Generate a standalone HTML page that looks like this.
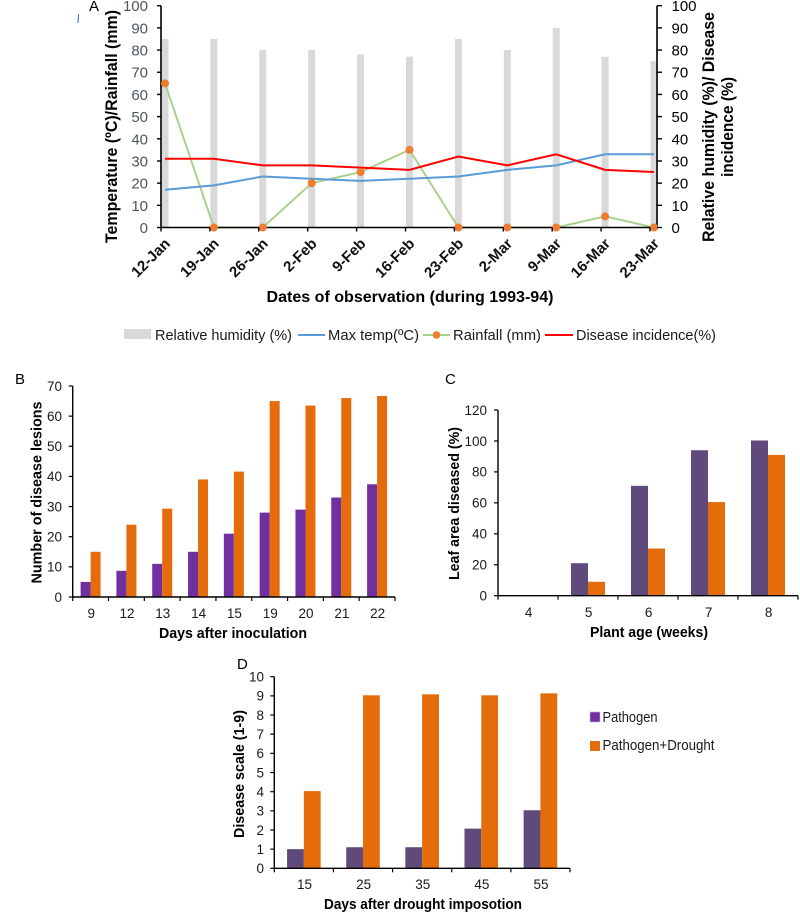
<!DOCTYPE html>
<html lang="en">
<head>
<meta charset="utf-8">
<title>Disease charts</title>
<style>
html,body{margin:0;padding:0;background:#fff;}
#figure{display:block;width:800px;height:913px;filter:blur(0.3px);}
text{font-family:"Liberation Sans",Arial,sans-serif;}
.b{font-weight:bold;fill:#000;}
</style>
</head>
<body>
<svg id="figure" xmlns="http://www.w3.org/2000/svg" width="800" height="913" viewBox="0 0 800 913">
  <rect x="0" y="0" width="800" height="913" fill="#ffffff"/>
  <g id="chartA"></g>
  <g id="chartB"></g>
  <g id="chartC"></g>
  <g id="chartD"></g>

  <path d="M78.5 14 L78 23" stroke="#2f6fc0" stroke-width="1" fill="none"/>
  <text x="89" y="11" font-size="15" fill="#000">A</text>
  <text x="15" y="384" font-size="15" fill="#000">B</text>
  <text x="445" y="384" font-size="15" fill="#000">C</text>
  <text x="237" y="669" font-size="15" fill="#000">D</text>

  <text class="b" transform="translate(117,126.5) rotate(-90)" text-anchor="middle" font-size="16.5" textLength="233" lengthAdjust="spacingAndGlyphs">Temperature (ºC)/Rainfall (mm)</text>
  <text class="b" transform="translate(714,127) rotate(-90)" text-anchor="middle" font-size="16.5" textLength="230" lengthAdjust="spacingAndGlyphs">Relative humidity (%)/ Disease</text>
  <text class="b" transform="translate(733,127) rotate(-90)" text-anchor="middle" font-size="16.5" textLength="100" lengthAdjust="spacingAndGlyphs">incidence (%)</text>
  <text class="b" x="410" y="302" text-anchor="middle" font-size="16" textLength="287" lengthAdjust="spacingAndGlyphs">Dates of observation (during 1993-94)</text>

  <g font-size="15" fill="#1a1a1a">
    <rect x="124" y="329" width="27" height="10" fill="#d9d9d9"/>
    <text x="155" y="340" textLength="137" lengthAdjust="spacingAndGlyphs">Relative humidity (%)</text>
    <line x1="298" y1="335" x2="325" y2="335" stroke="#5b9bd5" stroke-width="2"/>
    <text x="328" y="340" textLength="91" lengthAdjust="spacingAndGlyphs">Max temp(ºC)</text>
    <line x1="423" y1="335" x2="450" y2="335" stroke="#a9d18e" stroke-width="2"/>
    <circle cx="436.5" cy="335" r="3.8" fill="#ed7d31"/>
    <text x="453" y="340" textLength="88" lengthAdjust="spacingAndGlyphs">Rainfall (mm)</text>
    <line x1="545" y1="335" x2="573" y2="335" stroke="#ff0000" stroke-width="2"/>
    <text x="576" y="340" textLength="140" lengthAdjust="spacingAndGlyphs">Disease incidence(%)</text>
  </g>

  <text class="b" transform="translate(41.5,492.5) rotate(-90)" text-anchor="middle" font-size="14.5" textLength="182" lengthAdjust="spacingAndGlyphs">Number of disease lesions</text>
  <text class="b" x="233" y="638" text-anchor="middle" font-size="14.5" textLength="148" lengthAdjust="spacingAndGlyphs">Days after inoculation</text>

  <text class="b" transform="translate(459,503.5) rotate(-90)" text-anchor="middle" font-size="14.5" textLength="153" lengthAdjust="spacingAndGlyphs">Leaf area diseased (%)</text>
  <text class="b" x="649" y="637" text-anchor="middle" font-size="14.5" textLength="118" lengthAdjust="spacingAndGlyphs">Plant age (weeks)</text>

  <text class="b" transform="translate(244,774) rotate(-90)" text-anchor="middle" font-size="14.5" textLength="128" lengthAdjust="spacingAndGlyphs">Disease scale (1-9)</text>
  <text class="b" x="423" y="909" text-anchor="middle" font-size="14.5" textLength="198" lengthAdjust="spacingAndGlyphs">Days after drought imposotion</text>

  <g font-size="14.5" fill="#1a1a1a">
    <rect x="590" y="712" width="10" height="10" fill="#7030a0" stroke="#c9b3d9" stroke-width="0.6"/>
    <text x="602.5" y="722" textLength="55" lengthAdjust="spacingAndGlyphs">Pathogen</text>
    <rect x="590" y="741" width="10" height="10" fill="#e46c0a"/>
    <text x="602.5" y="750" textLength="112" lengthAdjust="spacingAndGlyphs">Pathogen+Drought</text>
  </g>
</svg>

<script>
// Chart A data
const datesA = ['12-Jan','19-Jan','26-Jan','2-Feb','9-Feb','16-Feb','23-Feb','2-Mar','9-Mar','16-Mar','23-Mar'];
const humidityA = [85,85,80,80,78,77,85,80,90,77,75];
const maxTempA = [17,19,23,22,21,22,23,26,28,33,33];
const rainfallA = [65,0,0,20,25,35,0,0,0,5,0];
const diseaseA = [31,31,28,28,27,26,32,28,33,26,25];
const ticksA = [0,10,20,30,40,50,60,70,80,90,100];

// Chart B data
const daysB = ['9','12','13','14','15','19','20','21','22'];
const series1B = [5,8.7,11,15,21,28,29,33,37.4];
const series2B = [15,24,29.3,39,41.6,65,63.5,66,66.7];
const ticksB = [0,10,20,30,40,50,60,70];

// Chart C data
const weeksC = ['4','5','6','7','8'];
const series1C = [0,21,71,94,100.3];
const series2C = [0,9,30.5,60.5,91];
const ticksC = [0,20,40,60,80,100,120];

// Chart D data
const daysD = ['15','25','35','45','55'];
const series1D = [1,1.1,1.1,2.07,3.03];
const series2D = [4.03,9.03,9.08,9.03,9.13];
const ticksD = [0,1,2,3,4,5,6,7,8,9,10];

const NS = 'http://www.w3.org/2000/svg';
function mk(tag, attrs, parent) {
  const el = document.createElementNS(NS, tag);
  for (const k in attrs) el.setAttribute(k, attrs[k]);
  parent.appendChild(el);
  return el;
}

function drawChartA() {
  const g = document.getElementById('chartA');
  const left = 161, right = 657, top = 5.7, bottom = 227.5, step = 48.9;
  const y = v => bottom - (v / 100) * (bottom - top);
  const tickX = i => left + step * i;
  const cx = i => left + 4 + step * i;

  humidityA.forEach((v, i) => {
    const el = mk('rect', {x: cx(i) - 3.5, y: y(v), width: 7, height: bottom - y(v), fill: '#d9d9d9'}, g);
    
    
  });

  const toPoints = arr => arr.map((v, i) => cx(i) + ',' + y(v)).join(' ');

  const rainLine = mk('polyline', {points: toPoints(rainfallA), fill: 'none', stroke: '#a9d18e', 'stroke-width': 2}, g);
  
  

  const tempLine = mk('polyline', {points: toPoints(maxTempA), fill: 'none', stroke: '#5b9bd5', 'stroke-width': 2}, g);
  
  

  const diseaseLine = mk('polyline', {points: toPoints(diseaseA), fill: 'none', stroke: '#ff0000', 'stroke-width': 2}, g);
  
  

  const axisPath = 'M' + left + ' ' + top + 'V' + bottom + 'H' + right + 'V' + top;
  const axes = mk('path', {d: axisPath, fill: 'none', stroke: '#000', 'stroke-width': 1.6}, g);
  
  

  rainfallA.forEach((v, i) => {
    const el = mk('circle', {cx: cx(i), cy: y(v), r: 4, fill: '#ed7d31'}, g);
    
    
  });

  ticksA.forEach(t => {
    const l = mk('line', {x1: left - 4, x2: left, y1: y(t), y2: y(t), stroke: '#000', 'stroke-width': 1.4}, g);
    
    
    const r = mk('line', {x1: right, x2: right + 5, y1: y(t), y2: y(t), stroke: '#000', 'stroke-width': 1.4}, g);
    
    
    const a = mk('text', {x: 148, y: y(t) + 5.5, 'text-anchor': 'end', 'font-size': 15, fill: '#4d5560'}, g);
    a.textContent = t;
    
    
    const b = mk('text', {x: 671.5, y: y(t) + 5.5, 'font-size': 15, fill: '#000'}, g);
    b.textContent = t;
    
    
  });

  datesA.forEach((d, i) => {
    const t = mk('line', {x1: tickX(i), x2: tickX(i), y1: bottom, y2: bottom + 4, stroke: '#000', 'stroke-width': 1.4}, g);
    
    
    const px = tickX(i) + 10, py = bottom + 17;
    const l = mk('text', {transform: 'translate(' + px + ',' + py + ') rotate(-45)', 'text-anchor': 'end', 'font-size': 15, 'font-weight': 'bold', fill: '#111'}, g);
    l.textContent = d;
    
    
  });
}

function drawBars(opts) {
  const g = document.getElementById(opts.id);
  const {left, right, top, bottom, max, barW, color1, color2, labelEnd, xLabelY, cats, s1, s2, ticks} = opts;
  const step = (right - left) / cats.length;
  const y = v => bottom - (v / max) * (bottom - top);
  const cx = i => left + step * (i + 0.5);

  cats.forEach((c, i) => {
    if (s1[i] > 0) {
      const a = mk('rect', {x: cx(i) - barW, y: y(s1[i]), width: barW, height: bottom - y(s1[i]), fill: color1}, g);
      
      
    }
    if (s2[i] > 0) {
      const b = mk('rect', {x: cx(i), y: y(s2[i]), width: barW, height: bottom - y(s2[i]), fill: color2}, g);
      
      
    }
    const lab = mk('text', {x: cx(i) + 0.6, y: xLabelY, 'text-anchor': 'middle', 'font-size': 13.5, fill: '#1a1a1a'}, g);
    lab.textContent = c;
    
    
  });

  const axes = mk('path', {d: 'M' + left + ' ' + top + 'V' + bottom + 'H' + right, fill: 'none', stroke: '#000', 'stroke-width': 1.4}, g);
  
  

  for (let i = 0; i <= cats.length; i++) {
    const x = left + step * i;
    const t = mk('line', {x1: x, x2: x, y1: bottom, y2: bottom + 4, stroke: '#000', 'stroke-width': 1.2}, g);
    
    
  }

  ticks.forEach(t => {
    const l = mk('line', {x1: left - 4, x2: left, y1: y(t), y2: y(t), stroke: '#000', 'stroke-width': 1.2}, g);
    
    
    const txt = mk('text', {x: labelEnd, y: y(t) + 4.8, 'text-anchor': 'end', 'font-size': 13.5, fill: '#1a1a1a'}, g);
    txt.textContent = t;
    
    
  });
}

drawChartA();
drawBars({id: 'chartB', left: 72.7, right: 395, top: 386, bottom: 597, max: 70, barW: 10, color1: '#7030a0', color2: '#e46c0a', labelEnd: 62, xLabelY: 618, cats: daysB, s1: series1B, s2: series2B, ticks: ticksB});
drawBars({id: 'chartC', left: 498, right: 798, top: 410, bottom: 595.7, max: 120, barW: 17, color1: '#604a7b', color2: '#e46c0a', labelEnd: 487, xLabelY: 617, cats: weeksC, s1: series1C, s2: series2C, ticks: ticksC});
drawBars({id: 'chartD', left: 274.3, right: 570, top: 676.7, bottom: 868.3, max: 10, barW: 16.8, color1: '#604a7b', color2: '#e46c0a', labelEnd: 264, xLabelY: 889, cats: daysD, s1: series1D, s2: series2D, ticks: ticksD});
</script>
</body>
</html>
